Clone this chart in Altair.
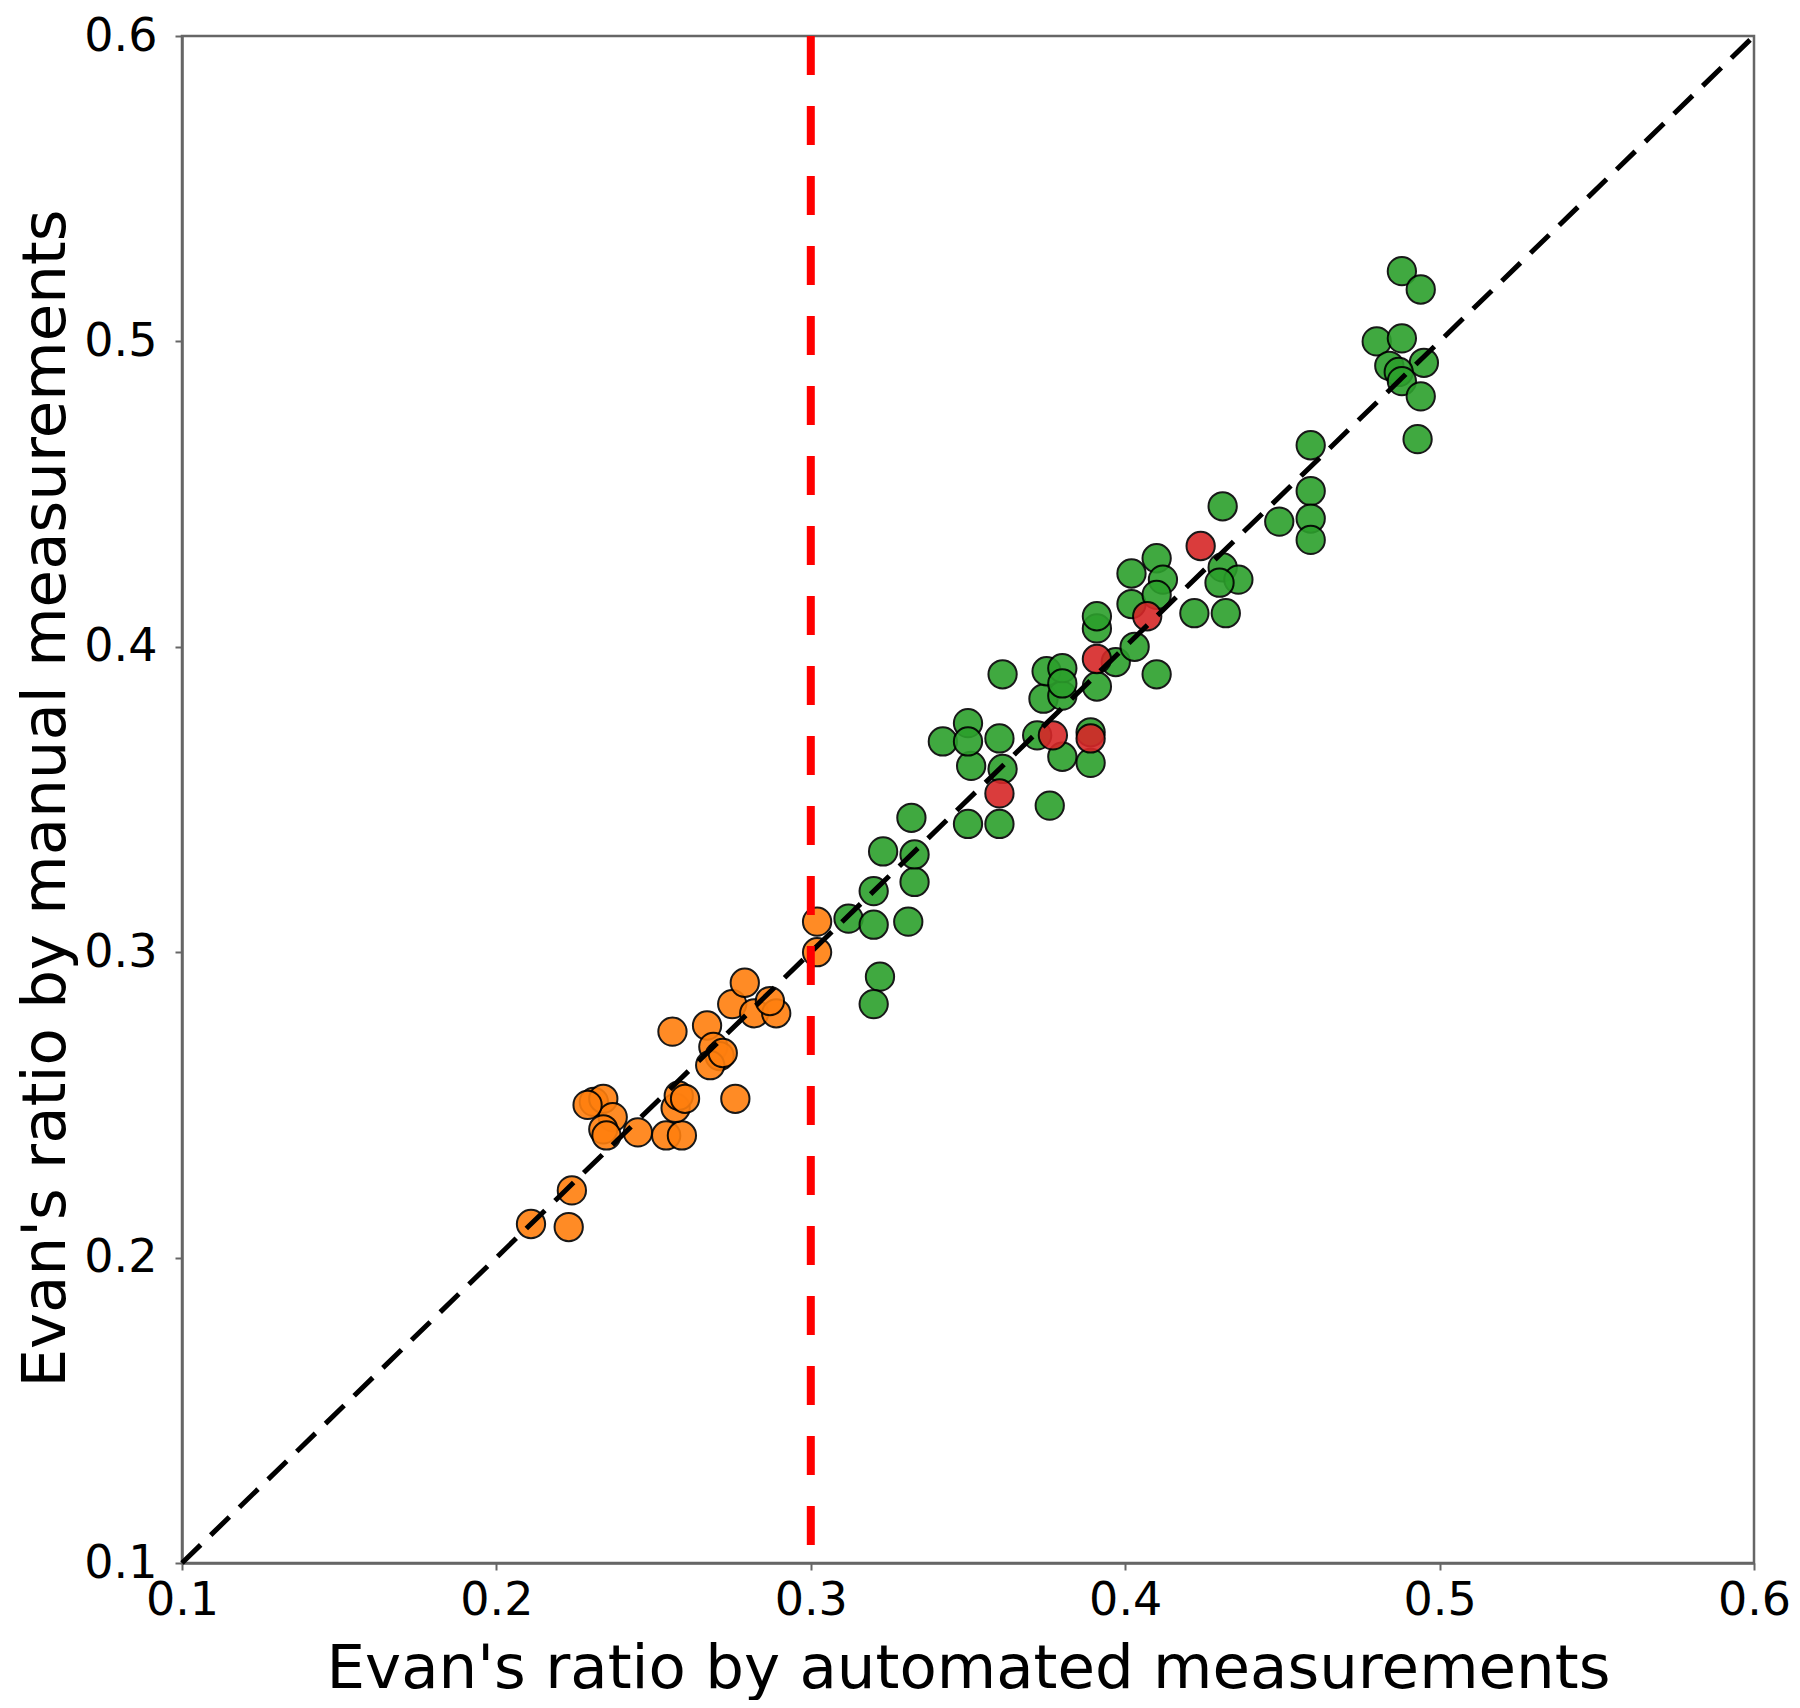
import altair as alt
import pandas as pd

# Values
orange_x = [0.211, 0.223, 0.224, 0.231, 0.234, 0.237, 0.234, 0.235, 0.245, 0.254,
            0.259, 0.257, 0.258, 0.260, 0.276, 0.256, 0.267, 0.269, 0.271, 0.268,
            0.272, 0.275, 0.279, 0.282, 0.289, 0.287, 0.302, 0.302, 0.229]
orange_y = [0.211, 0.210, 0.222, 0.251, 0.252, 0.246, 0.242, 0.240, 0.241, 0.240,
            0.240, 0.249, 0.253, 0.252, 0.252, 0.274, 0.276, 0.269, 0.266, 0.263,
            0.267, 0.283, 0.290, 0.280, 0.280, 0.284, 0.310, 0.300, 0.250]

green_x = [0.312, 0.320, 0.320, 0.331, 0.333, 0.323, 0.333, 0.332, 0.322, 0.320,
           0.350, 0.360, 0.361, 0.351, 0.342, 0.350, 0.350, 0.360, 0.361, 0.376,
           0.372, 0.380, 0.389, 0.389, 0.374, 0.380, 0.375, 0.380, 0.380, 0.391,
           0.397, 0.403, 0.410, 0.391, 0.391, 0.402, 0.402, 0.410, 0.412, 0.410,
           0.422, 0.432, 0.431, 0.436, 0.430, 0.431, 0.449, 0.459, 0.459, 0.459,
           0.459, 0.488, 0.494, 0.480, 0.488, 0.495, 0.484, 0.487, 0.488, 0.494,
           0.493]
green_y = [0.311, 0.320, 0.309, 0.310, 0.323, 0.333, 0.332, 0.344, 0.292, 0.283,
           0.342, 0.342, 0.360, 0.361, 0.369, 0.375, 0.369, 0.370, 0.391, 0.348,
           0.371, 0.364, 0.372, 0.362, 0.383, 0.384, 0.392, 0.393, 0.388, 0.387,
           0.395, 0.400, 0.391, 0.406, 0.410, 0.414, 0.424, 0.429, 0.422, 0.417,
           0.411, 0.411, 0.426, 0.422, 0.421, 0.446, 0.441, 0.466, 0.451, 0.442,
           0.435, 0.523, 0.517, 0.500, 0.501, 0.493, 0.492, 0.490, 0.487, 0.482,
           0.468]

red_x = [0.360, 0.377, 0.389, 0.391, 0.407, 0.424]
red_y = [0.352, 0.371, 0.370, 0.396, 0.410, 0.433]

group_names = ["orange", "green", "red"]
group_colors = ["#ff7f0e", "#2ca02c", "#d62728"]

ref_x = [0.1]
ref_y = [0.1]
ref_x2 = [0.6]
ref_y2 = [0.6]
cut_x = [0.3]
cut_y_top = [0.6]
cut_y_bottom = [0.1]

tick_vals = [0.1, 0.2, 0.3, 0.4, 0.5, 0.6]

rows = []
for gx, gy, g in [(orange_x, orange_y, "orange"), (green_x, green_y, "green"), (red_x, red_y, "red")]:
    for a, b in zip(gx, gy):
        rows.append({"auto": a, "manual": b, "group": g})
df = pd.DataFrame(rows)
df["order"] = range(len(df))

xscale = alt.Scale(domain=[0.1, 0.6], nice=False, zero=False)
yscale = alt.Scale(domain=[0.1, 0.6], nice=False, zero=False)

font = "DejaVu Sans"

xaxis = alt.Axis(values=tick_vals, format=".1f", grid=False, labelFlush=False,
                 title="Evan's ratio by automated measurements",
                 titleFontSize=61, titleFont=font, titleFontWeight="normal", titleColor="black",
                 titleY=106, titleBaseline="middle",
                 labelFontSize=46, labelFont=font, labelColor="black", labelPadding=8,
                 tickSize=7, tickWidth=2, tickColor="#666666",
                 domainColor="#666666", domainWidth=2.5, labelOverlap=False)
yaxis = alt.Axis(values=tick_vals, format=".1f", grid=False, labelFlush=False,
                 title="Evan's ratio by manual measurements",
                 titleFontSize=61, titleFont=font, titleFontWeight="normal", titleColor="black",
                 titleX=-118, titleY=762, titleAlign="center", titleBaseline="alphabetic", titleAngle=270,
                 labelFontSize=46, labelFont=font, labelColor="black", labelPadding=18,
                 tickSize=7, tickWidth=2, tickColor="#666666",
                 domainColor="#666666", domainWidth=2.5, labelOverlap=False)

points = alt.Chart(df).mark_point(filled=True, shape="circle", size=800, opacity=0.9,
                                  stroke="black", strokeWidth=2).encode(
    x=alt.X("auto:Q", scale=xscale, axis=xaxis),
    y=alt.Y("manual:Q", scale=yscale, axis=yaxis),
    fill=alt.Fill("group:N", scale=alt.Scale(domain=group_names, range=group_colors), legend=None),
    order=alt.Order("order:Q"),
)

diag = alt.Chart(pd.DataFrame({"x": ref_x, "y": ref_y, "x2": ref_x2, "y2": ref_y2})).mark_rule(
    color="black", strokeWidth=5, strokeDash=[26, 14]).encode(
    x=alt.X("x:Q", scale=xscale), y=alt.Y("y:Q", scale=yscale), x2="x2:Q", y2="y2:Q")

cut = alt.Chart(pd.DataFrame({"x": cut_x, "y": cut_y_top, "y2": cut_y_bottom})).mark_rule(
    color="#ff0000", strokeWidth=8, strokeDash=[39, 31]).encode(
    x=alt.X("x:Q", scale=xscale), y=alt.Y("y:Q", scale=yscale), y2="y2:Q")

chart = alt.layer(points, diag, cut).properties(
    width=1572, height=1527,
    autosize=alt.AutoSizeParams(type="none"),
    padding={"left": 174, "top": 28, "right": 38, "bottom": 137},
    background="white",
).configure_view(stroke="#666666", strokeWidth=2.5)

chart.save("out.html", embed_options={"renderer": "svg", "actions": False})
